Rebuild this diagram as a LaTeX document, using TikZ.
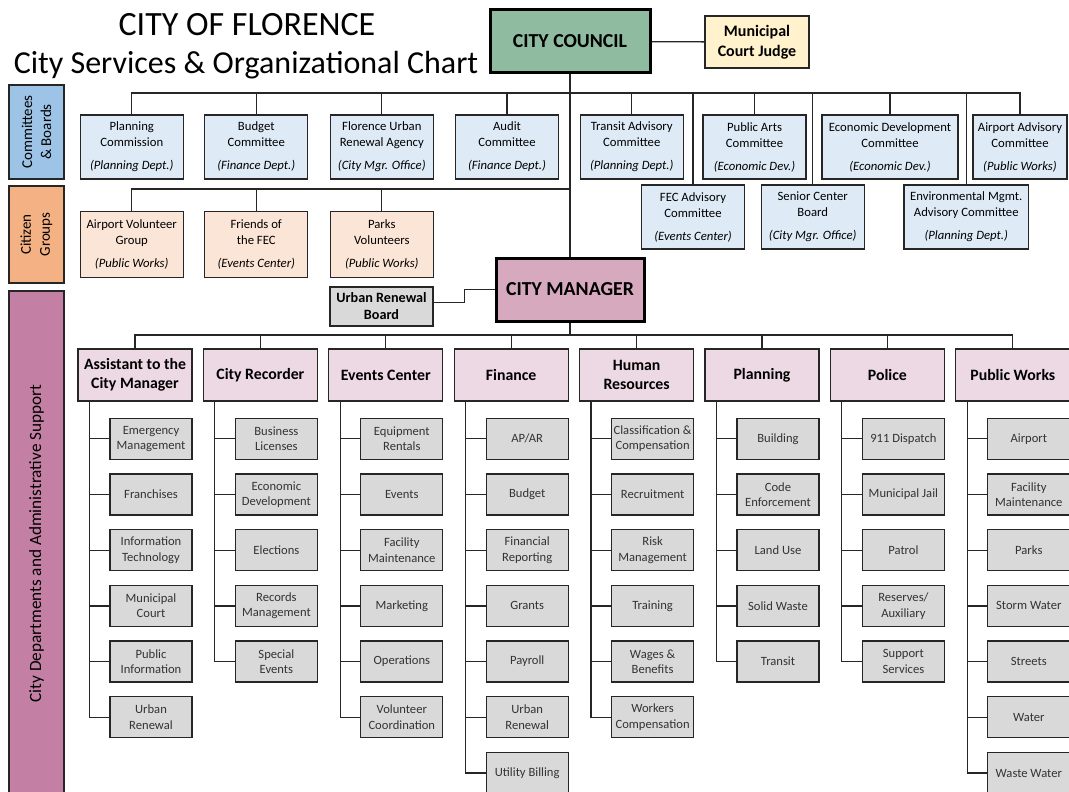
\documentclass[tikz,border=0pt]{standalone}
\usepackage{fontspec}
\setmainfont{Carlito}
\usepackage{xcolor}
\usepackage{tikz}
\usetikzlibrary{positioning}
\definecolor{ink}{HTML}{262626}
\definecolor{councilgreen}{HTML}{8FBCA0}
\definecolor{judgeyellow}{HTML}{FFF2CC}
\definecolor{cmtblue}{HTML}{DEEBF7}
\definecolor{cmtlabel}{HTML}{9DC3E6}
\definecolor{grppeach}{HTML}{FBE5D6}
\definecolor{grplabel}{HTML}{F4B183}
\definecolor{mgrpink}{HTML}{D6A9BF}
\definecolor{deptpink}{HTML}{EDD9E3}
\definecolor{deptlabel}{HTML}{C47FA4}
\definecolor{subgray}{HTML}{D9D9D9}
\definecolor{subtext}{HTML}{333333}
\newcommand{\setfs}[2]{\fontsize{#1}{#2}\selectfont}
\tikzset{
    ln/.style={draw=ink, line width=1.3pt},
    blk/.style={draw=ink, line width=1.3pt, align=center, inner sep=2pt},
    topblk/.style={blk, draw=black, line width=3pt, font=\bfseries\setfs{19.8}{23}},
    cmtblk/.style={blk, fill=cmtblue, minimum width=103pt, minimum height=64pt, font=\setfs{12.7}{16}},
    grpblk/.style={blk, fill=grppeach, minimum width=103pt, minimum height=66pt, font=\setfs{12.7}{16}},
    deptblk/.style={blk, fill=deptpink, minimum width=114pt, minimum height=52pt, font=\bfseries\setfs{15.8}{19}},
    subblk/.style={blk, fill=subgray, text=subtext, minimum width=82pt, minimum height=41pt, inner sep=1pt,
                   font=\setfs{12.6}{15.5}},
    sidelbl/.style={blk, rotate=90, font=\setfs{15}{19}}
}
\begin{document}
\begin{tikzpicture}[x=1pt, y=-1pt, node distance=13.4pt and 10.1pt]
    \useasboundingbox (0,0) rectangle (1069,792);
    % title
    \node[anchor=base, font=\setfs{34}{38}] (title) at (247,36) {CITY OF FLORENCE};
    \node[anchor=base, font=\setfs{32}{36}] (subtitle) at (246,74) {City Services \& Organizational Chart};
    % side labels
    \node[sidelbl, fill=cmtlabel, minimum width=94pt, minimum height=55pt] (lblcmt) at (36.5,132) {Committees\\\& Boards};
    \node[sidelbl, fill=grplabel, minimum width=97pt, minimum height=55pt] (lblgrp) at (36.5,234.5) {Citizen\\Groups};
    \node[sidelbl, fill=deptlabel, minimum width=505pt, minimum height=55pt, font=\setfs{17.2}{19}] (lbldept) at (36.5,543.5)
        {City Departments and Administrative Support};
    % council and manager
    \node[topblk, fill=councilgreen, minimum width=160pt, minimum height=63pt] (council) at (570,41.5) {CITY COUNCIL};
    \node[blk, fill=judgeyellow, minimum width=104pt, minimum height=52pt, font=\bfseries\setfs{16}{20}] (judge) at (757,42)
        {Municipal\\Court Judge};
    \node[topblk, fill=mgrpink, minimum width=148pt, minimum height=63pt] (manager) at (570,289.5) {CITY MANAGER};
    \node[blk, fill=subgray, minimum width=103pt, minimum height=39pt, font=\bfseries\setfs{14.2}{17}] (urb) at (381.5,306.5)
        {Urban Renewal\\Board};
    \draw[ln] (council) -- (judge);
    \draw[ln] (council) -- (manager);
    \draw[ln] ([yshift=4pt]urb.east) -- ++(31,0) |- (manager.west);
    % committees & boards
    \node[cmtblk] (plan) at (131.75,147) {Planning\\Commission\\[7pt]\textit{(Planning Dept.)}};
    \node[cmtblk] (budget) at (256.25,147) {Budget\\Committee\\[7pt]\textit{(Finance Dept.)}};
    \node[cmtblk] (fura) at (381.8,147) {Florence Urban\\Renewal Agency\\[7pt]\textit{(City Mgr. Office)}};
    \node[cmtblk] (audit) at (507,147) {Audit\\Committee\\[7pt]\textit{(Finance Dept.)}};
    \node[cmtblk] (transit) at (631.75,147) {Transit Advisory\\Committee\\[7pt]\textit{(Planning Dept.)}};
    \node[cmtblk] (arts) at (754.5,147) {Public Arts\\Committee\\[7pt]\textit{(Economic Dev.)}};
    \node[cmtblk, minimum width=136pt] (econ) at (890,147) {Economic Development\\Committee\\[7pt]\textit{(Economic Dev.)}};
    \node[cmtblk, minimum width=94pt] (airadv) at (1020,147) {Airport Advisory\\Committee\\[7pt]\textit{(Public Works)}};
    \node[cmtblk] (fec) at (693,217) {FEC Advisory\\Committee\\[7pt]\textit{(Events Center)}};
    \node[cmtblk] (senior) at (812.75,217) {Senior Center\\Board\\[7pt]\textit{(City Mgr. Office)}};
    \node[cmtblk, minimum width=124.5pt] (env) at (966.25,217) {Environmental Mgmt.\\Advisory Committee\\[7pt]\textit{(Planning Dept.)}};
    \coordinate (cbus) at (570,93);
    \draw[ln] (plan.north) |- (cbus) -| (airadv.north);
    \draw[ln] (budget.north) -- (budget.north |- cbus);
    \draw[ln] (fura.north) -- (fura.north |- cbus);
    \draw[ln] (audit.north) -- (audit.north |- cbus);
    \draw[ln] (transit.north) -- (transit.north |- cbus);
    \draw[ln] (arts.north) -- (arts.north |- cbus);
    \draw[ln] (econ.north) -- (econ.north |- cbus);
    \draw[ln] (fec.north) -- (fec.north |- cbus);
    \draw[ln] (senior.north) -- (senior.north |- cbus);
    \draw[ln] (env.north) -- (env.north |- cbus);
    % citizen groups
    \node[grpblk] (airvol) at (131.75,244.6) {Airport Volunteer\\Group\\[7pt]\textit{(Public Works)}};
    \node[grpblk] (friends) at (256.25,244.6) {Friends of\\the FEC\\[7pt]\textit{(Events Center)}};
    \node[grpblk] (parks) at (381.8,244.6) {Parks\\Volunteers\\[7pt]\textit{(Public Works)}};
    \coordinate (gbus) at (570,189);
    \draw[ln] (airvol.north) |- (gbus);
    \draw[ln] (friends.north) -- (friends.north |- gbus);
    \draw[ln] (parks.north) -- (parks.north |- gbus);
    % departments
    \node[deptblk] (asst) at (135,375) {Assistant to the\\City Manager};
    \node[deptblk, right=of asst] (rec) {City Recorder};
    \node[deptblk, right=of rec] (evc) {Events Center};
    \node[deptblk, right=of evc] (fin) {Finance};
    \node[deptblk, right=of fin] (hr) {Human\\Resources};
    \node[deptblk, right=of hr] (pln) {Planning};
    \node[deptblk, right=of pln] (pol) {Police};
    \node[deptblk, right=of pol] (pw) {Public Works};
    \coordinate (dbus) at (570,335);
    \draw[ln] (manager) -- (dbus);
    \draw[ln] (asst.north) |- (dbus) -| (pw.north);
    \draw[ln] (rec.north) -- (rec.north |- dbus);
    \draw[ln] (evc.north) -- (evc.north |- dbus);
    \draw[ln] (fin.north) -- (fin.north |- dbus);
    \draw[ln] (hr.north) -- (hr.north |- dbus);
    \draw[ln] (pln.north) -- (pln.north |- dbus);
    \draw[ln] (pol.north) -- (pol.north |- dbus);
    % assistant to the city manager
    \node[subblk, below=16pt of asst.south east, anchor=north east] (asst1) {Emergency\\Management};
    \node[subblk, below=of asst1] (asst2) {Franchises};
    \node[subblk, below=of asst2] (asst3) {Information\\Technology};
    \node[subblk, below=of asst3] (asst4) {Municipal\\Court};
    \node[subblk, below=of asst4] (asst5) {Public\\Information};
    \node[subblk, below=of asst5] (asst6) {Urban\\Renewal};
    \draw[ln] ([xshift=12pt]asst.south west) |- (asst1);
    \draw[ln] ([xshift=12pt]asst.south west) |- (asst2);
    \draw[ln] ([xshift=12pt]asst.south west) |- (asst3);
    \draw[ln] ([xshift=12pt]asst.south west) |- (asst4);
    \draw[ln] ([xshift=12pt]asst.south west) |- (asst5);
    \draw[ln] ([xshift=12pt]asst.south west) |- (asst6);
    % city recorder
    \node[subblk, below=16pt of rec.south east, anchor=north east] (rec1) {Business\\Licenses};
    \node[subblk, below=of rec1] (rec2) {Economic\\Development};
    \node[subblk, below=of rec2] (rec3) {Elections};
    \node[subblk, below=of rec3] (rec4) {Records\\Management};
    \node[subblk, below=of rec4] (rec5) {Special\\Events};
    \draw[ln] ([xshift=12pt]rec.south west) |- (rec1);
    \draw[ln] ([xshift=12pt]rec.south west) |- (rec2);
    \draw[ln] ([xshift=12pt]rec.south west) |- (rec3);
    \draw[ln] ([xshift=12pt]rec.south west) |- (rec4);
    \draw[ln] ([xshift=12pt]rec.south west) |- (rec5);
    % events center
    \node[subblk, below=16pt of evc.south east, anchor=north east] (evc1) {Equipment\\Rentals};
    \node[subblk, below=of evc1] (evc2) {Events};
    \node[subblk, below=of evc2] (evc3) {Facility\\Maintenance};
    \node[subblk, below=of evc3] (evc4) {Marketing};
    \node[subblk, below=of evc4] (evc5) {Operations};
    \node[subblk, below=of evc5] (evc6) {Volunteer\\Coordination};
    \draw[ln] ([xshift=12pt]evc.south west) |- (evc1);
    \draw[ln] ([xshift=12pt]evc.south west) |- (evc2);
    \draw[ln] ([xshift=12pt]evc.south west) |- (evc3);
    \draw[ln] ([xshift=12pt]evc.south west) |- (evc4);
    \draw[ln] ([xshift=12pt]evc.south west) |- (evc5);
    \draw[ln] ([xshift=12pt]evc.south west) |- (evc6);
    % finance
    \node[subblk, below=16pt of fin.south east, anchor=north east] (fin1) {AP/AR};
    \node[subblk, below=of fin1] (fin2) {Budget};
    \node[subblk, below=of fin2] (fin3) {Financial\\Reporting};
    \node[subblk, below=of fin3] (fin4) {Grants};
    \node[subblk, below=of fin4] (fin5) {Payroll};
    \node[subblk, below=of fin5] (fin6) {Urban\\Renewal};
    \node[subblk, below=of fin6] (fin7) {Utility Billing};
    \draw[ln] ([xshift=12pt]fin.south west) |- (fin1);
    \draw[ln] ([xshift=12pt]fin.south west) |- (fin2);
    \draw[ln] ([xshift=12pt]fin.south west) |- (fin3);
    \draw[ln] ([xshift=12pt]fin.south west) |- (fin4);
    \draw[ln] ([xshift=12pt]fin.south west) |- (fin5);
    \draw[ln] ([xshift=12pt]fin.south west) |- (fin6);
    \draw[ln] ([xshift=12pt]fin.south west) |- (fin7);
    % human resources
    \node[subblk, below=16pt of hr.south east, anchor=north east] (hr1) {Classification \&\\Compensation};
    \node[subblk, below=of hr1] (hr2) {Recruitment};
    \node[subblk, below=of hr2] (hr3) {Risk\\Management};
    \node[subblk, below=of hr3] (hr4) {Training};
    \node[subblk, below=of hr4] (hr5) {Wages \&\\Benefits};
    \node[subblk, below=of hr5] (hr6) {Workers\\Compensation};
    \draw[ln] ([xshift=12pt]hr.south west) |- (hr1);
    \draw[ln] ([xshift=12pt]hr.south west) |- (hr2);
    \draw[ln] ([xshift=12pt]hr.south west) |- (hr3);
    \draw[ln] ([xshift=12pt]hr.south west) |- (hr4);
    \draw[ln] ([xshift=12pt]hr.south west) |- (hr5);
    \draw[ln] ([xshift=12pt]hr.south west) |- (hr6);
    % planning
    \node[subblk, below=16pt of pln.south east, anchor=north east] (pln1) {Building};
    \node[subblk, below=of pln1] (pln2) {Code\\Enforcement};
    \node[subblk, below=of pln2] (pln3) {Land Use};
    \node[subblk, below=of pln3] (pln4) {Solid Waste};
    \node[subblk, below=of pln4] (pln5) {Transit};
    \draw[ln] ([xshift=12pt]pln.south west) |- (pln1);
    \draw[ln] ([xshift=12pt]pln.south west) |- (pln2);
    \draw[ln] ([xshift=12pt]pln.south west) |- (pln3);
    \draw[ln] ([xshift=12pt]pln.south west) |- (pln4);
    \draw[ln] ([xshift=12pt]pln.south west) |- (pln5);
    % police
    \node[subblk, below=16pt of pol.south east, anchor=north east] (pol1) {911 Dispatch};
    \node[subblk, below=of pol1] (pol2) {Municipal Jail};
    \node[subblk, below=of pol2] (pol3) {Patrol};
    \node[subblk, below=of pol3] (pol4) {Reserves/\\Auxiliary};
    \node[subblk, below=of pol4] (pol5) {Support\\Services};
    \draw[ln] ([xshift=12pt]pol.south west) |- (pol1);
    \draw[ln] ([xshift=12pt]pol.south west) |- (pol2);
    \draw[ln] ([xshift=12pt]pol.south west) |- (pol3);
    \draw[ln] ([xshift=12pt]pol.south west) |- (pol4);
    \draw[ln] ([xshift=12pt]pol.south west) |- (pol5);
    % public works
    \node[subblk, below=16pt of pw.south east, anchor=north east] (pw1) {Airport};
    \node[subblk, below=of pw1] (pw2) {Facility\\Maintenance};
    \node[subblk, below=of pw2] (pw3) {Parks};
    \node[subblk, below=of pw3] (pw4) {Storm Water};
    \node[subblk, below=of pw4] (pw5) {Streets};
    \node[subblk, below=of pw5] (pw6) {Water};
    \node[subblk, below=of pw6] (pw7) {Waste Water};
    \draw[ln] ([xshift=12pt]pw.south west) |- (pw1);
    \draw[ln] ([xshift=12pt]pw.south west) |- (pw2);
    \draw[ln] ([xshift=12pt]pw.south west) |- (pw3);
    \draw[ln] ([xshift=12pt]pw.south west) |- (pw4);
    \draw[ln] ([xshift=12pt]pw.south west) |- (pw5);
    \draw[ln] ([xshift=12pt]pw.south west) |- (pw6);
    \draw[ln] ([xshift=12pt]pw.south west) |- (pw7);
\end{tikzpicture}
\end{document}
